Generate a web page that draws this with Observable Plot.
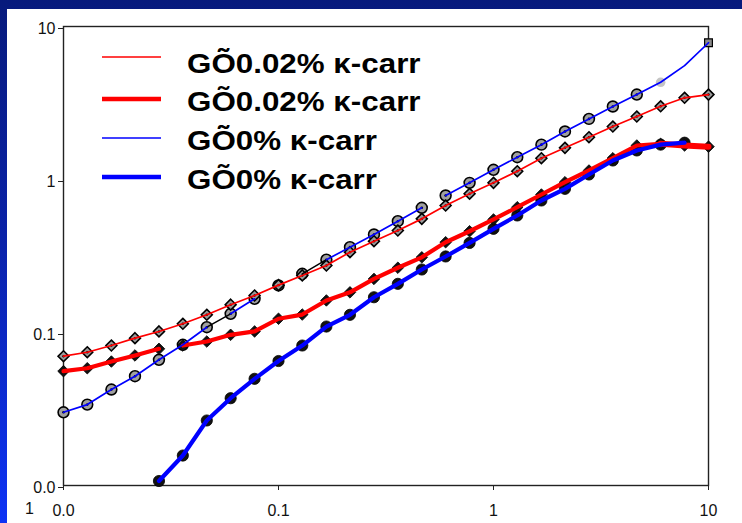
<!DOCTYPE html>
<html>
<head>
<meta charset="utf-8">
<script src="https://cdn.jsdelivr.net/npm/d3@7"></script>
<script src="https://cdn.jsdelivr.net/npm/@observablehq/plot@0.6"></script>
<style>
  html, body { margin: 0; padding: 0; }
  #wrap { position: relative; width: 742px; height: 523px; overflow: hidden;
    background: linear-gradient(to bottom, #071a7c 0%, #0a22a8 45%, #0d33f5 100%); }
  #panel { position: absolute; left: 7px; top: 9px; right: 0; bottom: 0; background: #fff; }
  #chart { position: absolute; left: 0; top: 0; }
  #legend { position: absolute; left: 0; top: 0; }
  #stray { position: absolute; left: 25px; top: 500px; font: 16px "Liberation Sans", Arial, sans-serif; color: #111; }
</style>
</head>
<body>
<div id="wrap">
  <div id="panel"></div>
  <div id="chart"></div>
  <svg id="legend" width="742" height="523"></svg>
  <div id="stray">1</div>
</div>
<script>
// Frequency (x) values
const freq = [0.01, 0.0129, 0.0167, 0.0215, 0.0278, 0.0359, 0.0464, 0.0599, 0.0774,
  0.1, 0.129, 0.167, 0.215, 0.278, 0.359, 0.464, 0.599, 0.774,
  1, 1.29, 1.67, 2.15, 2.78, 3.59, 4.64, 5.99, 7.74, 10];

// G'' 0.02% k-carr (thin red, open diamonds)
const gpp002 = [0.070, 0.0743, 0.0822, 0.0918, 0.1016, 0.114, 0.1306, 0.152, 0.1746,
  0.204, 0.236, 0.274, 0.335, 0.395, 0.464, 0.553, 0.676, 0.807,
  0.951, 1.133, 1.377, 1.611, 1.890, 2.22, 2.58, 3.01, 3.42, 3.59];

// G' 0.02% k-carr (thick red, filled diamonds)
const gp002 = [0.0559, 0.0584, 0.0646, 0.0708, 0.0782, 0.0822, 0.0873, 0.0966, 0.1016,
  0.123, 0.131, 0.162, 0.183, 0.224, 0.265, 0.310, 0.389, 0.459,
  0.548, 0.659, 0.798, 0.960, 1.145, 1.377, 1.668, 1.71, 1.668, 1.64];

// G'' 0% k-carr (thin blue, open circles)
const gpp0 = [0.0301, 0.0338, 0.0424, 0.0518, 0.0663, 0.0831, 0.1083, 0.1325, 0.166,
  0.203, 0.242, 0.299, 0.361, 0.437, 0.534, 0.653, 0.786, 0.951,
  1.157, 1.399, 1.69, 2.06, 2.49, 3.00, 3.59, 4.32, 5.55, 7.83];

// G' 0% k-carr (thick blue, filled circles)
const gp0 = [null, null, null, null, 0.0107, 0.0157, 0.0266, 0.0372, 0.0498,
  0.0651, 0.0822, 0.1094, 0.1305, 0.170, 0.208, 0.258, 0.314, 0.385,
  0.476, 0.582, 0.729, 0.869, 1.078, 1.331, 1.548, 1.69, 1.74, null];

// Line segments (index ranges) as seen in the picture
const gpp002Segs = [[0, 27]];
const gp002Segs = [[0, 4], [5, 25]];
const gp002TailSegs = [[25, 27]];
const gpp0Segs = [[0, 6], [7, 8], [11, 15], [16, 27]];
const gpp0BlackSegs = [[6, 7], [10, 11]];
const gp0Segs = [[4, 26]];

// Axis ticks
const xTicks = [0.01, 0.1, 1, 10];
const xTickLabels = ["0.0", "0.1", "1", "10"];
const yTicks = [0.01, 0.1, 1, 10];
const yTickLabels = ["0.0", "0.1", "1", "10"];

// Legend
const legendLabels = ["GÕ\u03030.02% κ-carr", "GÕ0.02% κ-carr", "GÕ\u03030% κ-carr", "GÕ0% κ-carr"];
const legendColors = ["#ff0000", "#ff0000", "#0000ff", "#0000ff"];
const legendWidths = [1.7, 4.5, 1.7, 4.5];

function rows(vals, from = 0, to = vals.length - 1) {
  const out = [];
  for (let i = from; i <= to; i++) if (vals[i] != null) out.push({x: freq[i], y: vals[i], i});
  return out;
}
function segRows(vals, segs) {
  const out = [];
  segs.forEach((s, k) => rows(vals, s[0], s[1]).forEach(r => out.push({...r, seg: k})));
  return out;
}

const allGpp002 = rows(gpp002);
const allGp002 = rows(gp002);
const allGpp0 = rows(gpp0);
const allGp0 = rows(gp0);

const chart = Plot.plot({
  width: 742,
  height: 523,
  marginLeft: 63,
  marginRight: 34,
  marginTop: 26,
  marginBottom: 38,
  style: {background: "transparent", fontFamily: "'Liberation Sans', Arial, sans-serif", color: "#111", overflow: "visible"},
  x: {type: "log", domain: [0.01, 10]},
  y: {type: "log", domain: [0.01, 10]},
  marks: [
    Plot.axisX({ticks: xTicks, tickFormat: d => xTickLabels[xTicks.indexOf(d)], tickSize: 5, tickPadding: 14, fontSize: 16, label: null, stroke: "#222"}),
    Plot.axisY({ticks: yTicks, tickFormat: d => yTickLabels[yTicks.indexOf(d)], tickSize: 5, tickPadding: 3, fontSize: 16, label: null, dy: 2, stroke: "#222"}),
    Plot.frame({stroke: "#222", strokeWidth: 1.4}),
    // markers
    Plot.dot(allGp0, {x: "x", y: "y", r: 5.6, fill: "#111", stroke: "#000", strokeWidth: 0.8}),
    Plot.dot(allGpp0.filter(d => d.i <= 24), {x: "x", y: "y", r: 5.4, fill: "#a0a0a0", stroke: "#000", strokeWidth: 1.6}),
    Plot.dot(allGpp0.filter(d => d.i <= 24), {x: "x", y: "y", r: 1.3, fill: "#000"}),
    Plot.dot(allGpp0.filter(d => d.i === 25), {x: "x", y: "y", r: 4.8, fill: "#c4c4c4"}),
    Plot.dot(allGpp0.filter(d => d.i === 27), {x: "x", y: "y", symbol: "square", r: 4.4, fill: "#8a8a8a", stroke: "#000", strokeWidth: 1.2}),
    Plot.dot(allGp002, {x: "x", y: "y", symbol: "diamond2", r: 5.2, fill: "#111", stroke: "#000", strokeWidth: 0.8}),
    Plot.dot(allGpp002, {x: "x", y: "y", symbol: "diamond2", r: 4.9, fill: "#9a9a9a", stroke: "#000", strokeWidth: 1.6}),
    Plot.dot(allGpp002, {x: "x", y: "y", r: 1.2, fill: "#000"}),
    // lines
    Plot.line(segRows(gpp002, gpp002Segs), {x: "x", y: "y", z: "seg", stroke: "#ff0000", strokeWidth: 1.7}),
    Plot.line(segRows(gp002, gp002Segs), {x: "x", y: "y", z: "seg", stroke: "#ff0000", strokeWidth: 4.2}),
    Plot.line(segRows(gp002, gp002TailSegs), {x: "x", y: "y", z: "seg", stroke: "#ff0000", strokeWidth: 6}),
    Plot.line(segRows(gpp0, gpp0BlackSegs), {x: "x", y: "y", z: "seg", stroke: "#000", strokeWidth: 1.5}),
    Plot.line(segRows(gpp0, gpp0Segs), {x: "x", y: "y", z: "seg", stroke: "#0000ff", strokeWidth: 1.7}),
    Plot.line(segRows(gp0, gp0Segs), {x: "x", y: "y", z: "seg", stroke: "#0000ff", strokeWidth: 4.2})
  ]
});
document.getElementById("chart").appendChild(chart);

// Legend (overlay)
const lg = d3.select("#legend");
const lineY = [57, 99, 138, 177];
const textY = [73, 111, 150, 189];
legendLabels.forEach((lab, k) => {
  lg.append("line").attr("x1", 102).attr("x2", 161).attr("y1", lineY[k]).attr("y2", lineY[k])
    .attr("stroke", legendColors[k]).attr("stroke-width", legendWidths[k]);
  lg.append("text")
    .attr("transform", `translate(187,${textY[k]}) scale(1.12,1)`)
    .attr("font-family", "'Liberation Sans', Arial, sans-serif")
    .attr("font-weight", "bold").attr("font-size", 28).attr("fill", "#000")
    .text(lab);
});
</script>
</body>
</html>
